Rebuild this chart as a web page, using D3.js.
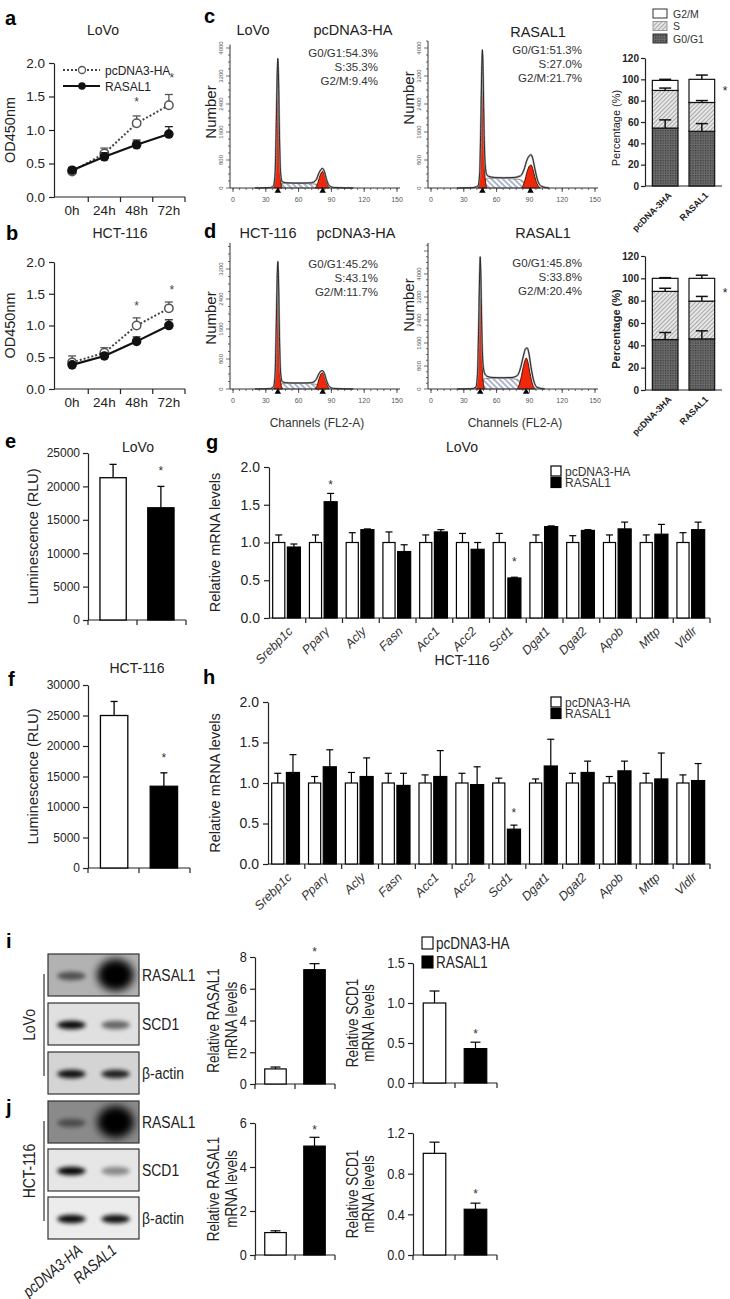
<!DOCTYPE html>
<html>
<head>
<meta charset="utf-8">
<script src="https://cdn.jsdelivr.net/npm/d3@7/dist/d3.min.js"></script>
<style>
  html,body{margin:0;padding:0;background:#fff;}
  svg{display:block;}
</style>
</head>
<body>
<svg id="fig" width="730" height="1299" viewBox="0 0 730 1299"></svg>
<script>
// ================= DATA =================
// a / b : CCK-8 growth curves
const timeCats = ['0h', '24h', '48h', '72h'];
const odTicks = [0, 0.5, 1.0, 1.5, 2.0];
const lovoCtrlOD = [0.38, 0.65, 1.10, 1.37];
const lovoCtrlODErr = [0.05, 0.08, 0.11, 0.16];
const lovoRasOD = [0.40, 0.60, 0.78, 0.94];
const lovoRasODErr = [0.04, 0.06, 0.07, 0.11];
const hctCtrlOD = [0.42, 0.57, 1.00, 1.27];
const hctCtrlODErr = [0.10, 0.08, 0.12, 0.10];
const hctRasOD = [0.38, 0.52, 0.75, 1.00];
const hctRasODErr = [0.03, 0.04, 0.07, 0.09];
const odStarCats = ['48h', '72h'];
const lovoODStars = [1.44, 1.79];
const hctODStars = [1.33, 1.58];

// c / d : flow cytometry histograms  [channel, count]
const histChannelTicks = [0, 30, 60, 90, 120, 150];
const histCountTicks = [0, 800, 1600, 2400, 3200, 4000];
const lovoCtrlHist = [[20,0],[34,10],[37,60],[38.5,400],[39.5,1700],[40.5,3300],[41,3700],[41.6,3200],[42.5,1500],[43.5,450],[45,180],[48,150],[55,140],[65,140],[72,150],[76,230],[78.5,420],[80.5,530],[82,560],[83.5,480],[85.5,250],[88,70],[92,15],[110,0]];
const lovoCtrlG1 = [[37,0],[38.5,250],[39.5,1400],[40.5,3150],[41,3550],[41.6,3050],[42.5,1300],[43.5,250],[45,0]];
const lovoCtrlG2 = [[75,0],[77,90],[79,300],[81,450],[82,480],[83.5,400],[85.5,180],[88,0]];
const lovoCtrlS = [[41,0],[43,90],[46,130],[55,128],[65,125],[75,115],[80,60],[84,0]];
const lovoCtrlPeaks = [41, 82];
const lovoRasHist = [[24,0],[38,10],[43,60],[44.5,400],[45.5,1700],[46.5,3500],[47,3950],[47.6,3400],[48.5,1700],[49.5,700],[51,380],[53,330],[58,300],[66,290],[76,300],[82,350],[85,520],[88,820],[90,920],[91.5,950],[93,850],[95,550],[97.5,220],[101,50],[108,0]];
const lovoRasG1 = [[43,0],[44.5,300],[45.5,1500],[46.5,3300],[47,3800],[47.6,3200],[48.5,1400],[49.5,300],[51,0]];
const lovoRasG2 = [[83,0],[85.5,180],[88,480],[90,630],[91.5,660],[93,560],[95,320],[97.5,90],[100,0]];
const lovoRasS = [[47,0],[49,200],[52,280],[60,280],[70,270],[80,250],[86,150],[91,0]];
const lovoRasPeaks = [47, 91];
const hctCtrlHist = [[20,0],[34,10],[37,60],[38.5,380],[39.5,1600],[40.5,3050],[41,3400],[41.6,2950],[42.5,1400],[43.5,450],[45,200],[48,170],[55,160],[65,160],[72,170],[76,250],[78.5,400],[80.5,480],[82,490],[83.5,420],[85.5,230],[88,70],[92,15],[110,0]];
const hctCtrlG1 = [[37,0],[38.5,240],[39.5,1300],[40.5,2900],[41,3250],[41.6,2800],[42.5,1200],[43.5,240],[45,0]];
const hctCtrlG2 = [[75,0],[77,100],[79,300],[81,420],[82,430],[83.5,360],[85.5,160],[88,0]];
const hctCtrlS = [[41,0],[43,100],[46,150],[55,150],[65,150],[75,130],[80,60],[84,0]];
const hctCtrlPeaks = [41, 82];
const hctRasHist = [[24,0],[37,10],[41,60],[42.5,500],[43.5,2000],[44.5,4000],[45,4600],[45.6,3900],[46.5,2000],[47.5,900],[49,550],[51,450],[56,400],[65,390],[74,400],[79,470],[82,750],[84.5,1150],[86.5,1400],[88,1430],[89.5,1250],[91.5,750],[94,280],[97,60],[104,0]];
const hctRasG1 = [[41,0],[42.5,350],[43.5,1700],[44.5,3800],[45,4350],[45.6,3700],[46.5,1700],[47.5,350],[49,0]];
const hctRasG2 = [[79,0],[81.5,250],[84,700],[86,1000],[87,1080],[88.5,960],[90.5,560],[93,150],[95.5,0]];
const hctRasS = [[45,0],[47,250],[50,370],[60,380],[70,370],[78,340],[84,180],[88,0]];
const hctRasPeaks = [45, 87];

// c / d : cell-cycle distribution (%)
const cycleGroups = ['pcDNA-3HA', 'RASAL1'];
const cycleTicks = [0, 20, 40, 60, 80, 100, 120];
const phaseLegend = ['G2/M', 'S', 'G0/G1'];
const lovoG0G1 = [54.3, 51.3];
const lovoS = [35.3, 27.0];
const lovoG2M = [9.4, 21.7];
const lovoG0G1Err = [7.7, 7.2];
const lovoSErr = [2.2, 1.8];
const lovoG2MErr = [1.0, 4.0];
const hctG0G1 = [45.2, 45.8];
const hctS = [43.1, 33.8];
const hctG2M = [11.7, 20.4];
const hctG0G1Err = [6.3, 7.2];
const hctSErr = [2.8, 4.2];
const hctG2MErr = [0.6, 2.8];
const lovoCycleStar = 90;
const hctCycleStar = 88;

// e / f : luminescence
const lumGroups = ['pcDNA3-HA', 'RASAL1'];
const lovoLum = [21300, 16800];
const lovoLumErr = [2000, 3200];
const lovoLumStar = 22400;
const lovoLumTicks = [0, 5000, 10000, 15000, 20000, 25000];
const hctLum = [25000, 13400];
const hctLumErr = [2300, 2200];
const hctLumStar = 18200;
const hctLumTicks = [0, 5000, 10000, 15000, 20000, 25000, 30000];

// g / h : lipid gene mRNA
const genes = ['Srebp1c', 'Pparγ', 'Acly', 'Fasn', 'Acc1', 'Acc2', 'Scd1', 'Dgat1', 'Dgat2', 'Apob', 'Mttp', 'Vldlr'];
const mrnaTicks = [0, 0.5, 1.0, 1.5, 2.0];
const lovoCtrlMRNA = [1.00, 1.00, 1.00, 1.00, 1.00, 1.00, 1.00, 1.00, 1.00, 1.00, 1.00, 1.00];
const lovoCtrlMRNAErr = [0.10, 0.10, 0.13, 0.14, 0.10, 0.12, 0.12, 0.10, 0.09, 0.10, 0.10, 0.13];
const lovoRasMRNA = [0.94, 1.54, 1.17, 0.88, 1.14, 0.91, 0.53, 1.21, 1.16, 1.18, 1.11, 1.17];
const lovoRasMRNAErr = [0.04, 0.11, 0.01, 0.09, 0.03, 0.09, 0.01, 0.01, 0.01, 0.09, 0.13, 0.10];
const lovoMRNAStarGenes = ['Pparγ', 'Scd1'];
const lovoMRNAStars = [1.77, 0.75];
const hctCtrlMRNA = [1.00, 1.00, 1.00, 1.00, 1.00, 1.00, 1.00, 1.00, 1.00, 1.00, 1.00, 1.00];
const hctCtrlMRNAErr = [0.12, 0.08, 0.13, 0.12, 0.10, 0.12, 0.06, 0.05, 0.12, 0.08, 0.12, 0.10];
const hctRasMRNA = [1.13, 1.20, 1.08, 0.97, 1.08, 0.98, 0.43, 1.21, 1.13, 1.15, 1.05, 1.03];
const hctRasMRNAErr = [0.22, 0.21, 0.23, 0.15, 0.32, 0.22, 0.05, 0.33, 0.14, 0.12, 0.32, 0.21];
const hctMRNAStarGenes = ['Scd1'];
const hctMRNAStars = [0.64];

// i / j : western blots and qPCR
const blotLanes = ['pcDNA3-HA', 'RASAL1'];
const blotProteins = ['RASAL1', 'SCD1', 'β-actin'];
const lovoBlot = [[0.55, 1.0], [0.95, 0.55], [0.92, 0.85]];
const hctBlot = [[0.45, 1.0], [0.97, 0.4], [0.95, 0.92]];
const lovoBlotBg = ['#b2b2b2', '#e0e0e0', '#d4d4d4'];
const hctBlotBg = ['#8a8a8a', '#e6e6e6', '#ececec'];
const lovoRasalQ = [0.95, 7.2];
const lovoRasalQErr = [0.12, 0.38];
const lovoRasalQStar = 8.4;
const lovoRasalQTicks = [0, 2, 4, 6, 8];
const lovoScdQ = [1.0, 0.43];
const lovoScdQErr = [0.15, 0.08];
const lovoScdQStar = 0.63;
const lovoScdQTicks = [0, 0.5, 1.0, 1.5];
const hctRasalQ = [1.02, 4.95];
const hctRasalQErr = [0.08, 0.40];
const hctRasalQStar = 5.75;
const hctRasalQTicks = [0, 2, 4, 6];
const hctScdQ = [1.0, 0.45];
const hctScdQErr = [0.11, 0.06];
const hctScdQStar = 0.61;
const hctScdQTicks = [0, 0.4, 0.8, 1.2];

// ================= DRAWING =================
const svg = d3.select('#fig');
const FONT = '"Liberation Sans", Arial, Helvetica, sans-serif';
const INK = '#222';
const NARROW_SCALE = 0.82;
svg.append('rect').attr('width', 730).attr('height', 1299).attr('fill', '#fff');

const defs = svg.append('defs');
{
  const p = defs.append('pattern').attr('id', 'patS').attr('patternUnits', 'userSpaceOnUse')
    .attr('width', 3).attr('height', 3).attr('patternTransform', 'rotate(45)');
  p.append('rect').attr('width', 3).attr('height', 3).attr('fill', '#e6e6e6');
  p.append('line').attr('x1', 0.5).attr('y1', 0).attr('x2', 0.5).attr('y2', 3).attr('stroke', '#a9a9a9').attr('stroke-width', 1);
  const q = defs.append('pattern').attr('id', 'patG1').attr('patternUnits', 'userSpaceOnUse')
    .attr('width', 2.5).attr('height', 2.5);
  q.append('rect').attr('width', 2.5).attr('height', 2.5).attr('fill', '#6a6a6a');
  q.append('rect').attr('width', 1.2).attr('height', 1.2).attr('fill', '#3a3a3a');
  const h = defs.append('pattern').attr('id', 'patHist').attr('patternUnits', 'userSpaceOnUse')
    .attr('width', 4).attr('height', 4).attr('patternTransform', 'rotate(-45)');
  h.append('rect').attr('width', 4).attr('height', 4).attr('fill', '#fff');
  h.append('line').attr('x1', 1).attr('y1', 0).attr('x2', 1).attr('y2', 4).attr('stroke', '#5d6f96').attr('stroke-width', 1);
  const f = defs.append('filter').attr('id', 'blur').attr('x', '-50%').attr('y', '-50%').attr('width', '200%').attr('height', '200%');
  f.append('feGaussianBlur').attr('stdDeviation', 2.2);
  const f2 = defs.append('filter').attr('id', 'blurBig').attr('x', '-50%').attr('y', '-50%').attr('width', '200%').attr('height', '200%');
  f2.append('feGaussianBlur').attr('stdDeviation', 4);
}

function text(g, x, y, s, o = {}) {
  const t = g.append('text').text(s)
    .attr('font-size', o.size || 12).attr('fill', o.fill || INK)
    .attr('font-family', FONT)
    .attr('text-anchor', o.anchor || 'start');
  if (o.narrow) {
    t.attr('x', 0).attr('y', 0)
      .attr('transform', `translate(${x},${y}) rotate(${o.rotate || 0}) scale(${NARROW_SCALE},1)`);
  } else {
    t.attr('x', x).attr('y', y);
    if (o.rotate !== undefined) t.attr('transform', `rotate(${o.rotate},${x},${y})`);
  }
  if (o.weight) t.attr('font-weight', o.weight);
  if (o.style) t.attr('font-style', o.style);
  return t;
}
function styleAxis(sel, size, weight, narrow) {
  sel.attr('font-family', null).attr('font-size', null);
  sel.select('.domain').attr('stroke', INK).attr('stroke-width', 1.2);
  sel.selectAll('.tick line').attr('stroke', INK).attr('stroke-width', 1.2);
  sel.selectAll('.tick text').attr('font-size', size).attr('font-family', FONT).attr('fill', INK);
  if (weight) sel.selectAll('.tick text').attr('font-weight', weight);
  if (narrow) sel.selectAll('.tick text').attr('transform', `scale(${NARROW_SCALE},1)`);
}
function hline(g, x1, x2, y, w = 1.2, c = INK) {
  g.append('line').attr('x1', x1).attr('x2', x2).attr('y1', y).attr('y2', y).attr('stroke', c).attr('stroke-width', w);
}
function vline(g, x, y1, y2, w = 1.2, c = INK) {
  g.append('line').attr('x1', x).attr('x2', x).attr('y1', y1).attr('y2', y2).attr('stroke', c).attr('stroke-width', w);
}
function errBar(g, x, yTop, yErr, cap, c = INK, w = 1.2) {
  vline(g, x, yTop, yErr, w, c);
  hline(g, x - cap / 2, x + cap / 2, yErr, w, c);
}
function letter(x, y, s) { text(svg, x, y, s, { size: 20, weight: 'bold', fill: '#000' }); }

// ---------- a / b ----------
function odChart(c) {
  const g = svg.append('g');
  const x = d3.scaleBand().domain(timeCats).range([c.xl, c.xr]);
  const y = d3.scaleLinear().domain([0, 2]).range([c.y0, c.yTop]);
  const bw = x.bandwidth(), cx = d => x(d) + bw / 2;
  const ya = g.append('g').attr('transform', `translate(${c.xl - 2},0)`)
    .call(d3.axisLeft(y).tickValues(odTicks).tickFormat(d3.format('.1f')).tickSize(5).tickSizeOuter(0).tickPadding(4));
  styleAxis(ya, 13.5);
  hline(g, c.xl - 2, c.xr, c.y0);
  timeCats.forEach(t => {
    vline(g, x(t) + bw, c.y0, c.y0 + 5);
    text(g, cx(t), c.y0 + 18, t, { size: 13.5, anchor: 'middle' });
  });
  text(g, c.ylabX, (c.y0 + c.yTop) / 2, 'OD450nm', { size: 14.5, anchor: 'middle', rotate: -90 });
  text(g, c.titleX, c.titleY, c.title, { size: 14, anchor: 'middle' });

  const pts = (vals) => timeCats.map((t, i) => ({ t, v: vals[i] }));
  const line = d3.line().x(d => cx(d.t)).y(d => y(d.v));
  g.append('path').datum(pts(c.ctrl)).attr('d', line).attr('fill', 'none')
    .attr('stroke', '#444').attr('stroke-width', 2).attr('stroke-dasharray', '2,2');
  timeCats.forEach((t, i) => errBar(g, cx(t), y(c.ctrl[i]), y(c.ctrl[i] + c.ctrlErr[i]), 8, '#555', 1.3));
  timeCats.forEach((t, i) => g.append('circle').attr('cx', cx(t)).attr('cy', y(c.ctrl[i])).attr('r', 4.2)
    .attr('fill', '#fff').attr('stroke', '#555').attr('stroke-width', 1.5));
  g.append('path').datum(pts(c.ras)).attr('d', line).attr('fill', 'none')
    .attr('stroke', '#111').attr('stroke-width', 2.2);
  timeCats.forEach((t, i) => errBar(g, cx(t), y(c.ras[i]), y(c.ras[i] + c.rasErr[i]), 8, '#222', 1.3));
  timeCats.forEach((t, i) => g.append('circle').attr('cx', cx(t)).attr('cy', y(c.ras[i])).attr('r', 4.8).attr('fill', '#111'));
  odStarCats.forEach((t, i) => text(g, cx(t) + (i ? 3 : 0), y(c.stars[i]) + 5, '*', { size: 12, anchor: 'middle', fill: '#444' }));

  if (c.legend) {
    const ly1 = 70, ly2 = 86;
    g.append('line').attr('x1', 63).attr('x2', 100).attr('y1', ly1).attr('y2', ly1)
      .attr('stroke', '#444').attr('stroke-width', 2).attr('stroke-dasharray', '2,2');
    g.append('circle').attr('cx', 82).attr('cy', ly1).attr('r', 3.5).attr('fill', '#fff').attr('stroke', '#555').attr('stroke-width', 1.3);
    text(g, 105, ly1 + 4.5, lumGroups[0], { size: 12 });
    hline(g, 63, 100, ly2, 2.2, '#111');
    g.append('circle').attr('cx', 82).attr('cy', ly2).attr('r', 3.8).attr('fill', '#111');
    text(g, 105, ly2 + 4.5, lumGroups[1], { size: 12 });
  }
}
odChart({ xl: 56, xr: 185, y0: 197, yTop: 63, ctrl: lovoCtrlOD, ctrlErr: lovoCtrlODErr, ras: lovoRasOD, rasErr: lovoRasODErr,
  stars: lovoODStars, title: 'LoVo', titleX: 103, titleY: 35, ylabX: 15, legend: true });
odChart({ xl: 56, xr: 185, y0: 389, yTop: 262, ctrl: hctCtrlOD, ctrlErr: hctCtrlODErr, ras: hctRasOD, rasErr: hctRasODErr,
  stars: hctODStars, title: 'HCT-116', titleX: 120, titleY: 238, ylabX: 15, legend: false });
letter(5, 25, 'a');
letter(6, 240, 'b');

// ---------- c / d histograms ----------
function histogram(c) {
  const g = svg.append('g');
  const x = d3.scaleLinear().domain([0, 150]).range([c.ax + 3, c.ax + 167]);
  const y = d3.scaleLinear().domain([0, 4000]).range([c.y0, c.y4000]);
  const area = d3.area().x(d => x(d[0])).y0(c.y0).y1(d => y(d[1])).curve(d3.curveMonotoneX);
  const line = d3.line().x(d => x(d[0])).y(d => y(d[1])).curve(d3.curveMonotoneX);
  g.append('path').datum(c.s).attr('d', area).attr('fill', 'url(#patHist)').attr('stroke', '#444').attr('stroke-width', 0.6);
  [c.g1, c.g2].forEach(pk => g.append('path').datum(pk).attr('d', area)
    .attr('fill', '#f1270b').attr('stroke', '#3a0a00').attr('stroke-width', 0.9));
  g.append('path').datum(c.outline).attr('d', line).attr('fill', 'none').attr('stroke', '#a6a6a6').attr('stroke-width', 2);
  g.append('path').datum(c.outline).attr('d', line).attr('fill', 'none').attr('stroke', '#1a1a1a').attr('stroke-width', 0.9);
  const topY = y(c.axisMax);
  vline(g, c.ax, c.y0, topY, 1, '#333');
  d3.range(0, c.axisMax + 1, 200).forEach(v => hline(g, c.ax - (v % 800 === 0 ? 4 : 2), c.ax, y(v), 0.7, '#333'));
  histCountTicks.filter(v => v <= c.axisMax).forEach(v =>
    text(g, c.ax - 7, y(v), String(v), { size: 6, anchor: 'middle', rotate: -90, fill: '#555' }));
  hline(g, c.ax, c.ax + 170, c.y0, 1, '#333');
  d3.range(0, 151, 6).forEach(v => vline(g, x(v), c.y0, c.y0 + 2, 0.7, '#333'));
  histChannelTicks.forEach(v => {
    vline(g, x(v), c.y0, c.y0 + 4, 0.8, '#333');
    text(g, x(v), c.y0 + 14, String(v), { size: 7, anchor: 'middle', fill: '#555' });
  });
  c.peaks.forEach(p => g.append('path').attr('d', d3.symbol(d3.symbolTriangle, 18)())
    .attr('transform', `translate(${x(p)},${c.y0 + 3})`).attr('fill', '#000'));
  text(g, c.ax - 14, c.numY, 'Number', { size: 15, anchor: 'middle', rotate: -90 });
  c.stats.forEach((s, i) => text(g, c.statX, c.statY + i * 14, s, { size: 11.5, anchor: 'end', fill: '#333' }));
  if (c.channels) text(g, c.ax + 87, c.y0 + 38, 'Channels (FL2-A)', { size: 12, anchor: 'middle', fill: '#333' });
}
const pct = v => v.toFixed(1) + '%';
histogram({ ax: 230, y0: 188, y4000: 48, axisMax: 4100, outline: lovoCtrlHist, g1: lovoCtrlG1, g2: lovoCtrlG2, s: lovoCtrlS,
  peaks: lovoCtrlPeaks, numY: 112, statX: 378, statY: 57,
  stats: ['G0/G1:' + pct(lovoG0G1[0]), 'S:' + pct(lovoS[0]), 'G2/M:' + pct(lovoG2M[0])], channels: false });
histogram({ ax: 428, y0: 188, y4000: 48, axisMax: 4200, outline: lovoRasHist, g1: lovoRasG1, g2: lovoRasG2, s: lovoRasS,
  peaks: lovoRasPeaks, numY: 98, statX: 582, statY: 54,
  stats: ['G0/G1:' + pct(lovoG0G1[1]), 'S:' + pct(lovoS[1]), 'G2/M:' + pct(lovoG2M[1])], channels: false });
histogram({ ax: 230, y0: 389, y4000: 239, axisMax: 3900, outline: hctCtrlHist, g1: hctCtrlG1, g2: hctCtrlG2, s: hctCtrlS,
  peaks: hctCtrlPeaks, numY: 318, statX: 378, statY: 268,
  stats: ['G0/G1:' + pct(hctG0G1[0]), 'S:' + pct(hctS[0]), 'G2/M:' + pct(hctG2M[0])], channels: true });
histogram({ ax: 428, y0: 389, y4000: 274, axisMax: 5080, outline: hctRasHist, g1: hctRasG1, g2: hctRasG2, s: hctRasS,
  peaks: hctRasPeaks, numY: 305, statX: 582, statY: 267,
  stats: ['G0/G1:' + pct(hctG0G1[1]), 'S:' + pct(hctS[1]), 'G2/M:' + pct(hctG2M[1])], channels: true });
text(svg, 253, 35, 'LoVo', { size: 14.5, anchor: 'middle' });
text(svg, 353, 35, lumGroups[0], { size: 14.5, anchor: 'middle' });
text(svg, 538, 37, lumGroups[1], { size: 14.5, anchor: 'middle' });
text(svg, 268, 238, 'HCT-116', { size: 14.5, anchor: 'middle' });
text(svg, 356, 238, lumGroups[0], { size: 14.5, anchor: 'middle' });
text(svg, 543, 238, lumGroups[1], { size: 14.5, anchor: 'middle' });
letter(204, 23, 'c');
letter(204, 238, 'd');

// ---------- c / d stacked cell cycle ----------
function cycleChart(c) {
  const g = svg.append('g');
  const y = d3.scaleLinear().domain([0, 120]).range([c.y0, c.yTop]);
  const x = d3.scaleBand().domain(cycleGroups).range([c.ax, c.ax + 77]).paddingInner(0.3).paddingOuter(0.2);
  const bw = x.bandwidth();
  const ya = g.append('g').attr('transform', `translate(${c.ax},0)`)
    .call(d3.axisLeft(y).tickValues(cycleTicks).tickSize(4).tickSizeOuter(0).tickPadding(2));
  styleAxis(ya, 10, 'bold');
  hline(g, c.ax, c.ax + 77, c.y0);
  const layers = [
    { vals: c.g1, err: c.g1e, fill: 'url(#patG1)' },
    { vals: c.s, err: c.se, fill: 'url(#patS)' },
    { vals: c.g2, err: c.g2e, fill: '#fff' }];
  const errs = [];
  cycleGroups.forEach((grp, i) => {
    let base = 0;
    layers.forEach(L => {
      const top = base + L.vals[i];
      g.append('rect').attr('x', x(grp)).attr('y', y(top)).attr('width', bw).attr('height', y(base) - y(top))
        .attr('fill', L.fill).attr('stroke', '#111').attr('stroke-width', 1.2);
      errs.push([x(grp) + bw / 2, y(top), y(top + L.err[i])]);
      base = top;
    });
  });
  errs.forEach(e => errBar(g, e[0], e[1], e[2], 12, '#111', 1.5));
  text(g, c.ax + 80, y(c.star) + 5, '*', { size: 12, anchor: 'middle' });
  cycleGroups.forEach(grp => text(g, x(grp) + bw / 2 + 7, c.y0 + 10, grp,
    { size: 9, weight: 'bold', anchor: 'end', rotate: -45 }));
  text(g, c.ax - 25, (c.y0 + c.yTop) / 2 + 6, c.ylab, { size: 11, anchor: 'middle', rotate: -90, weight: c.ylabWeight });
}
cycleChart({ ax: 645, y0: 186, yTop: 58, g1: lovoG0G1, s: lovoS, g2: lovoG2M, g1e: lovoG0G1Err, se: lovoSErr, g2e: lovoG2MErr,
  star: lovoCycleStar, ylab: 'Percentage (%)' });
cycleChart({ ax: 645, y0: 390, yTop: 256, g1: hctG0G1, s: hctS, g2: hctG2M, g1e: hctG0G1Err, se: hctSErr, g2e: hctG2MErr,
  star: hctCycleStar, ylab: 'Percentage (%)', ylabWeight: 'bold' });
{
  const fills = ['#fff', 'url(#patS)', 'url(#patG1)'];
  phaseLegend.forEach((p, i) => {
    const yy = 9 + i * 12.5;
    svg.append('rect').attr('x', 653).attr('y', yy).attr('width', 14).attr('height', 9)
      .attr('fill', fills[i]).attr('stroke', i === 1 ? '#999' : '#333').attr('stroke-width', 1);
    text(svg, 673, yy + 8.5, p, { size: 10.5, fill: '#333' });
  });
}

// ---------- e / f ----------
function lumChart(c) {
  const g = svg.append('g');
  const y = d3.scaleLinear().domain([0, c.ymax]).range([c.y0, c.yTop]);
  const x = d3.scaleBand().domain(lumGroups).range([c.xl, c.xr]).paddingInner(0.45).paddingOuter(0.25);
  const bw = x.bandwidth();
  const ya = g.append('g').attr('transform', `translate(${c.xl},0)`)
    .call(d3.axisLeft(y).tickValues(c.ticks).tickFormat(d3.format('d')).tickSize(5).tickSizeOuter(0).tickPadding(3));
  styleAxis(ya, 12);
  hline(g, c.xl, c.xr, c.y0);
  [c.xl, (c.xl + c.xr) / 2, c.xr].forEach(v => vline(g, v, c.y0, c.y0 + 5));
  lumGroups.forEach((grp, i) => {
    g.append('rect').attr('x', x(grp)).attr('y', y(c.vals[i])).attr('width', bw).attr('height', c.y0 - y(c.vals[i]))
      .attr('fill', i ? '#000' : '#fff').attr('stroke', '#000').attr('stroke-width', 1.3);
    errBar(g, x(grp) + bw / 2, y(c.vals[i]), y(c.vals[i] + c.errs[i]), 7, '#000', 1.3);
  });
  text(g, x(lumGroups[1]) + bw / 2, y(c.star) + 5, '*', { size: 12, anchor: 'middle', fill: '#333' });
  text(g, c.titleX, c.titleY, c.title, { size: 14, anchor: 'middle' });
  text(g, 38, (c.y0 + c.yTop) / 2, 'Luminescence (RLU)', { size: 14.5, anchor: 'middle', rotate: -90 });
}
lumChart({ xl: 88, xr: 186, y0: 620, yTop: 453, ymax: 25000, ticks: lovoLumTicks, vals: lovoLum, errs: lovoLumErr,
  star: lovoLumStar, title: 'LoVo', titleX: 138, titleY: 452 });
lumChart({ xl: 88, xr: 190, y0: 868, yTop: 685, ymax: 30000, ticks: hctLumTicks, vals: hctLum, errs: hctLumErr,
  star: hctLumStar, title: 'HCT-116', titleX: 137, titleY: 673 });
letter(5, 448, 'e');
letter(8, 686, 'f');

// ---------- g / h ----------
function mrnaChart(c) {
  const g = svg.append('g');
  const y = d3.scaleLinear().domain([0, 2]).range([c.y0, c.yTop]);
  const x = d3.scaleBand().domain(genes).range([c.xl, c.xr]);
  const bw = x.bandwidth();
  const ya = g.append('g').attr('transform', `translate(${c.xl},0)`)
    .call(d3.axisLeft(y).tickValues(mrnaTicks).tickFormat(d3.format('.1f')).tickSize(5).tickSizeOuter(0).tickPadding(4));
  styleAxis(ya, 14);
  hline(g, c.xl, c.xr, c.y0);
  genes.forEach(gn => vline(g, x(gn) + bw, c.y0, c.y0 + 5));
  const wW = bw * 0.33, wB = bw * 0.355;
  genes.forEach((gn, i) => {
    const xw = x(gn) + bw * 0.1, xb = x(gn) + bw * 0.5;
    g.append('rect').attr('x', xw).attr('y', y(c.ctrl[i])).attr('width', wW).attr('height', c.y0 - y(c.ctrl[i]))
      .attr('fill', '#fff').attr('stroke', '#000').attr('stroke-width', 1.2);
    errBar(g, xw + wW / 2, y(c.ctrl[i]), y(c.ctrl[i] + c.ctrlErr[i]), 7, '#000', 1.2);
    g.append('rect').attr('x', xb).attr('y', y(c.ras[i])).attr('width', wB).attr('height', c.y0 - y(c.ras[i]))
      .attr('fill', '#000').attr('stroke', '#000').attr('stroke-width', 1.2);
    errBar(g, xb + wB / 2, y(c.ras[i]), y(c.ras[i] + c.rasErr[i]), 7, '#000', 1.2);
    text(g, x(gn) + bw / 2 + 6, c.y0 + 14, gn, { size: 12.5, style: 'italic', anchor: 'end', rotate: -45, fill: '#333' });
  });
  c.starGenes.forEach((gn, i) => text(g, x(gn) + bw * 0.5 + wB / 2, y(c.stars[i]) + 5, '*', { size: 12, anchor: 'middle', fill: '#333' }));
  text(g, 462, c.titleY, c.title, { size: 14, anchor: 'middle' });
  text(g, 220, (c.y0 + c.yTop) / 2, 'Relative  mRNA levels', { size: 14.5, anchor: 'middle', rotate: -90 });
  lumGroups.forEach((grp, i) => {
    const yy = c.legY + i * 11.5;
    g.append('rect').attr('x', 551).attr('y', yy - 5).attr('width', 10).attr('height', 10)
      .attr('fill', i ? '#000' : '#fff').attr('stroke', '#000').attr('stroke-width', 1.2);
    text(g, 565, yy + 4.5, grp, { size: 12, fill: '#333' });
  });
}
mrnaChart({ xl: 269, xr: 710, y0: 618, yTop: 467, ctrl: lovoCtrlMRNA, ctrlErr: lovoCtrlMRNAErr, ras: lovoRasMRNA, rasErr: lovoRasMRNAErr,
  starGenes: lovoMRNAStarGenes, stars: lovoMRNAStars, title: 'LoVo', titleY: 452, legY: 471 });
mrnaChart({ xl: 268, xr: 710, y0: 864, yTop: 702, ctrl: hctCtrlMRNA, ctrlErr: hctCtrlMRNAErr, ras: hctRasMRNA, rasErr: hctRasMRNAErr,
  starGenes: hctMRNAStarGenes, stars: hctMRNAStars, title: 'HCT-116', titleY: 665, legY: 702 });
letter(206, 449, 'g');
letter(203, 684, 'h');

// ---------- i / j blots ----------
function blots(c) {
  const g = svg.append('g');
  const lane = d3.scaleBand().domain(blotLanes).range([48, 139]).paddingInner(0.1).paddingOuter(0.08);
  const lw = lane.bandwidth();
  blotProteins.forEach((p, r) => {
    const top = c.tops[r], h = 42;
    const cid = `clip${c.id}${r}`;
    defs.append('clipPath').attr('id', cid).append('rect').attr('x', 48).attr('y', top).attr('width', 91).attr('height', h);
    const bg = g.append('g').attr('clip-path', `url(#${cid})`);
    bg.append('rect').attr('x', 48).attr('y', top).attr('width', 91).attr('height', h).attr('fill', c.bg[r]);
    blotLanes.forEach((ln, k) => {
      const v = c.bands[r][k];
      const big = v >= 1;
      bg.append('ellipse').attr('cx', lane(ln) + lw / 2).attr('cy', top + h / 2 + (big ? 0 : 1))
        .attr('rx', big ? lw * 0.46 : lw * 0.36).attr('ry', big ? 16 : 4.2)
        .attr('fill', '#000').attr('opacity', big ? 1 : v).attr('filter', big ? 'url(#blurBig)' : 'url(#blur)');
    });
    g.append('rect').attr('x', 48).attr('y', top).attr('width', 91).attr('height', h)
      .attr('fill', 'none').attr('stroke', '#333').attr('stroke-width', 1.2);
    text(g, 142, top + h / 2 + 6, p, { size: 17, narrow: true });
  });
  const t0 = c.tops[0] + 20, t1 = c.tops[2] + 24;
  vline(g, 44, t0, t1, 1.2, '#333');
  text(g, 35, (t0 + t1) / 2, c.cell, { size: 17, anchor: 'middle', rotate: -90, narrow: true });
  return lane;
}
blots({ id: 'i', tops: [954, 1003, 1052], bands: lovoBlot, bg: lovoBlotBg, cell: 'LoVo' });
const laneScale = blots({ id: 'j', tops: [1101, 1149, 1197], bands: hctBlot, bg: hctBlotBg, cell: 'HCT-116' });
blotLanes.forEach((ln, k) => text(svg, laneScale(ln) + laneScale.bandwidth() / 2 + (k ? 2 : 12), 1252, ln,
  { size: 16, style: 'italic', anchor: 'end', rotate: -40, narrow: true }));
letter(6, 948, 'i');
letter(6, 1114, 'j');

function qChart(c) {
  const g = svg.append('g');
  const y = d3.scaleLinear().domain([0, c.ymax]).range([c.y0, c.yTop]);
  const x = d3.scaleBand().domain(blotLanes).range([c.xl, c.xr]).paddingInner(0.45).paddingOuter(0.25);
  const bw = x.bandwidth();
  const ya = g.append('g').attr('transform', `translate(${c.xl},0)`)
    .call(d3.axisLeft(y).tickValues(c.ticks).tickFormat(c.fmt).tickSize(5).tickSizeOuter(0).tickPadding(5));
  styleAxis(ya, 15.5, null, true);
  hline(g, c.xl, c.xr, c.y0);
  [c.xl, (c.xl + c.xr) / 2, c.xr].forEach(v => vline(g, v, c.y0, c.y0 + 5));
  blotLanes.forEach((ln, i) => {
    g.append('rect').attr('x', x(ln)).attr('y', y(c.vals[i])).attr('width', bw).attr('height', c.y0 - y(c.vals[i]))
      .attr('fill', i ? '#000' : '#fff').attr('stroke', '#000').attr('stroke-width', 1.2);
    errBar(g, x(ln) + bw / 2, y(c.vals[i]), y(c.vals[i] + c.errs[i]), 10, '#000', 1.2);
  });
  text(g, x(blotLanes[1]) + bw / 2, y(c.star) + 5, '*', { size: 12, anchor: 'middle', fill: '#333' });
  const cy = (c.y0 + c.yTop) / 2;
  text(g, c.lab1X, cy, c.lab1, { size: 16.5, anchor: 'middle', rotate: -90, narrow: true });
  text(g, c.lab2X, cy, 'mRNA  levels', { size: 16.5, anchor: 'middle', rotate: -90, narrow: true });
}
const f0 = d3.format('d'), f1 = d3.format('.1f');
qChart({ xl: 255, xr: 335, y0: 1084, yTop: 957, ymax: 8, ticks: lovoRasalQTicks, fmt: f0, vals: lovoRasalQ, errs: lovoRasalQErr,
  star: lovoRasalQStar, lab1: 'Relative  RASAL1', lab1X: 219, lab2X: 237 });
qChart({ xl: 413, xr: 497, y0: 1083, yTop: 963, ymax: 1.5, ticks: lovoScdQTicks, fmt: f1, vals: lovoScdQ, errs: lovoScdQErr,
  star: lovoScdQStar, lab1: 'Relative  SCD1', lab1X: 358, lab2X: 374 });
qChart({ xl: 255, xr: 335, y0: 1255, yTop: 1123, ymax: 6, ticks: hctRasalQTicks, fmt: f0, vals: hctRasalQ, errs: hctRasalQErr,
  star: hctRasalQStar, lab1: 'Relative  RASAL1', lab1X: 219, lab2X: 237 });
qChart({ xl: 413, xr: 497, y0: 1255, yTop: 1133, ymax: 1.2, ticks: hctScdQTicks, fmt: f1, vals: hctScdQ, errs: hctScdQErr,
  star: hctScdQStar, lab1: 'Relative  SCD1', lab1X: 358, lab2X: 374 });
blotLanes.forEach((ln, i) => {
  const yy = 943 + i * 19;
  svg.append('rect').attr('x', 422).attr('y', yy - 6).attr('width', 11).attr('height', 12)
    .attr('fill', i ? '#000' : '#fff').attr('stroke', '#000').attr('stroke-width', 1.1);
  text(svg, 436, yy + 6, ln, { size: 16.5, narrow: true });
});
</script>
</body>
</html>
